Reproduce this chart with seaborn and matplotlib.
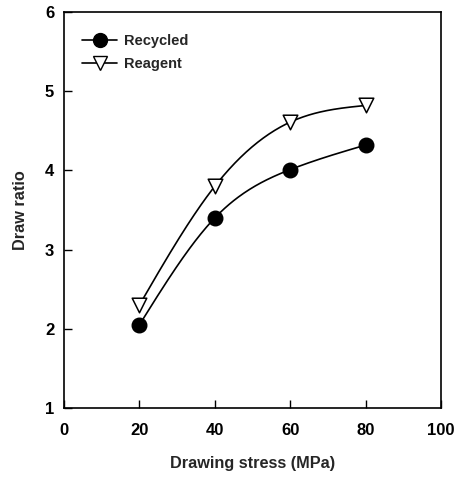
import numpy as np
import pandas as pd
import matplotlib
matplotlib.use("Agg")
import matplotlib.pyplot as plt
from matplotlib.lines import Line2D
import seaborn as sns

# Data
stress = [20, 40, 60, 80]
recycled = [2.05, 3.40, 4.01, 4.32]
reagent = [2.30, 3.80, 4.61, 4.82]
x_ticks = [0, 20, 40, 60, 80, 100]
y_ticks = [1, 2, 3, 4, 5, 6]
series_names = ["Recycled", "Reagent"]


def natural_spline(x, y, n=200):
    x = np.asarray(x, float)
    y = np.asarray(y, float)
    k = len(x)
    h = np.diff(x)
    A = np.zeros((k, k))
    b = np.zeros(k)
    A[0, 0] = 1
    A[-1, -1] = 1
    for i in range(1, k - 1):
        A[i, i - 1] = h[i - 1]
        A[i, i] = 2 * (h[i - 1] + h[i])
        A[i, i + 1] = h[i]
        b[i] = 6 * ((y[i + 1] - y[i]) / h[i] - (y[i] - y[i - 1]) / h[i - 1])
    M = np.linalg.solve(A, b)
    xs = np.linspace(x[0], x[-1], n)
    ys = np.empty_like(xs)
    for j, xv in enumerate(xs):
        i = min(np.searchsorted(x, xv, side="right") - 1, k - 2)
        t1 = x[i + 1] - xv
        t0 = xv - x[i]
        ys[j] = (M[i] * t1 ** 3 + M[i + 1] * t0 ** 3) / (6 * h[i]) \
            + (y[i] / h[i] - M[i] * h[i] / 6) * t1 \
            + (y[i + 1] / h[i] - M[i + 1] * h[i] / 6) * t0
    return xs, ys


sns.set_theme(style="ticks")
plt.rcParams["font.family"] = ["Liberation Sans", "DejaVu Sans"]
plt.rcParams["font.weight"] = "bold"

fig = plt.figure(figsize=(4.61, 4.78), dpi=100)
ax = fig.add_axes([64 / 461, 1 - 408 / 478, (441 - 64) / 461, (408 - 12) / 478])

xs1, ys1 = natural_spline(stress, recycled)
xs2, ys2 = natural_spline(stress, reagent)
curves = pd.DataFrame({
    "x": np.concatenate([xs1, xs2]),
    "y": np.concatenate([ys1, ys2]),
    "series": [series_names[0]] * len(xs1) + [series_names[1]] * len(xs2),
})
sns.lineplot(data=curves, x="x", y="y", hue="series", units="series",
             estimator=None, palette=["black", "black"], linewidth=1.2,
             legend=False, ax=ax, sort=False)

pts = pd.DataFrame({
    "x": stress + stress,
    "y": recycled + reagent,
    "series": [series_names[0]] * 4 + [series_names[1]] * 4,
})
sns.scatterplot(data=pts[pts.series == "Recycled"], x="x", y="y", marker="o",
                color="black", s=110, edgecolor="black", linewidth=1,
                zorder=3, ax=ax, legend=False)
sns.scatterplot(data=pts[pts.series == "Reagent"], x="x", y="y", marker="v",
                color="white", s=110, edgecolor="black", linewidth=1.1,
                zorder=3, ax=ax, legend=False)

ax.set_xlim(0, 100)
ax.set_ylim(1, 6)
ax.set_xticks(x_ticks)
ax.set_yticks(y_ticks)
ax.tick_params(direction="in", length=6, width=1, colors="black",
               labelsize=12, top=False, right=False)
ax.tick_params(axis="x", pad=11)
ax.tick_params(axis="y", pad=7)
for lab in ax.get_xticklabels() + ax.get_yticklabels():
    lab.set_fontweight("bold")
for s in ax.spines.values():
    s.set_visible(True)
    s.set_color("black")
    s.set_linewidth(1.2)

ax.set_xlabel("Drawing stress (MPa)", fontsize=11.7, fontweight="bold", labelpad=13)
ax.set_ylabel("Draw ratio", fontsize=11.7, fontweight="bold", labelpad=12)

handles = [
    Line2D([], [], color="black", lw=1.2, marker="o", markersize=10,
           markerfacecolor="black", markeredgecolor="black"),
    Line2D([], [], color="black", lw=1.2, marker="v", markersize=10,
           markerfacecolor="white", markeredgecolor="black"),
]
leg = ax.legend(handles, series_names, loc="upper left", frameon=False,
                bbox_to_anchor=(0.014, 0.977), handlelength=2.4,
                handletextpad=0.45, labelspacing=0.6,
                prop={"weight": "bold", "size": 10.5})

fig.savefig("out.png", dpi=100)
